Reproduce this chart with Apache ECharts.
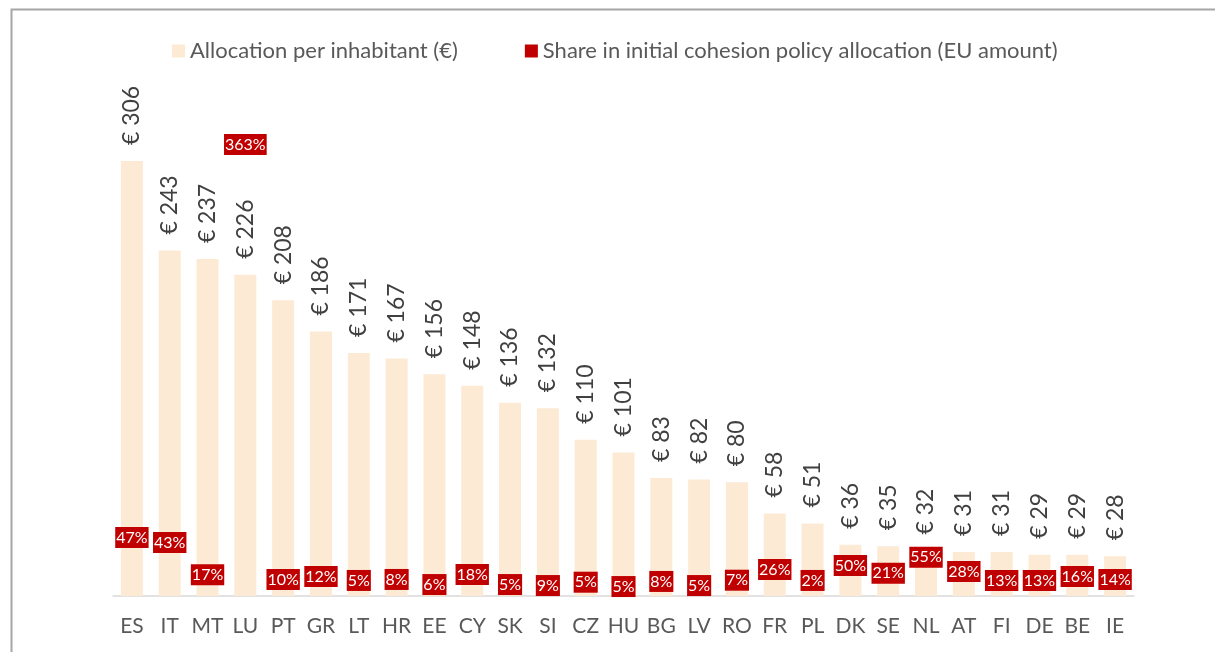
<!DOCTYPE html>
<html>
<head>
<meta charset="utf-8">
<script src="https://cdn.jsdelivr.net/npm/echarts@6/dist/echarts.min.js"></script>
<style>
html,body{margin:0;padding:0;background:#fff;}
#chart{width:1215px;height:652px;}
</style>
</head>
<body>
<div id="chart"></div>
<script>
// ---- data ----
const categories = ['ES','IT','MT','LU','PT','GR','LT','HR','EE','CY','SK','SI','CZ','HU','BG','LV','RO','FR','PL','DK','SE','NL','AT','FI','DE','BE','IE'];
const allocationPerInhabitant = [306,243,237,226,208,186,171,167,156,148,136,132,110,101,83,82,80,58,51,36,35,32,31,31,29,29,28];
const shareInAllocation = [47,43,17,363,10,12,5,8,6,18,5,9,5,5,8,5,7,26,2,50,21,55,28,13,13,16,14];
// where each share label sits on the (hidden) secondary % axis
const shareLabelAnchor = [47,43,17,363,13.3,15.7,12.5,13.3,9.2,17.3,9.2,8.4,11.1,7.6,11.7,8.4,12.7,21.3,12.5,24.5,18.3,31.2,19.7,12.5,12.5,15.7,13.3];
const seriesNames = ['Allocation per inhabitant (€)','Share in initial cohesion policy allocation (EU amount)'];

const FONT = 'Lato, "Open Sans", sans-serif';
const chart = echarts.init(document.getElementById('chart'), null, {renderer:'canvas'});

chart.setOption({
  animation:false,
  backgroundColor:'#ffffff',
  graphic:[{
    type:'rect', left:9, top:7, silent:true,
    shape:{width:1240, height:700},
    style:{fill:'none', stroke:'#a6a6a6', lineWidth:2}
  }],
  legend:{
    left:167, top:35,
    itemWidth:13, itemHeight:13, itemGap:67,
    textStyle:{fontFamily:FONT, fontSize:22, color:'#595959'},
    data:[
      {name:seriesNames[0], icon:'rect', itemStyle:{color:'#FDEAD5', opacity:1}},
      {name:seriesNames[1], icon:'rect', itemStyle:{color:'#C00000', opacity:1}}
    ]
  },
  grid:{left:113, right:81, top:98.5, bottom:56, containLabel:false},
  xAxis:{
    type:'category', data:categories,
    axisLine:{show:true, lineStyle:{color:'#d9d9d9', width:1.5}},
    axisTick:{show:false},
    axisLabel:{fontFamily:FONT, fontSize:21, color:'#595959', margin:20, interval:0}
  },
  yAxis:[
    {type:'value', min:0, max:350, show:false, splitLine:{show:false}},
    {type:'value', min:0, max:400, show:false, splitLine:{show:false}}
  ],
  series:[
    {
      name:seriesNames[0], type:'bar', yAxisIndex:0,
      data:allocationPerInhabitant,
      barWidth:22,
      itemStyle:{color:'#FDEAD5'},
      label:{
        show:true, position:'top', rotate:90, align:'left', verticalAlign:'middle',
        distance:16, fontFamily:FONT, fontSize:23, color:'#404040',
        formatter:p=>'€ '+p.value
      }
    },
    {
      name:seriesNames[1], type:'scatter', yAxisIndex:1,
      data:shareLabelAnchor.map((v,i)=>({value:v, share:shareInAllocation[i]})),
      symbolSize:1,
      itemStyle:{color:'rgba(192,0,0,0)', opacity:1},
      emphasis:{disabled:true},
      label:{
        show:true, position:'inside', opacity:1,
        backgroundColor:'#C00000', color:'#ffffff',
        fontFamily:FONT, fontSize:16, padding:[3,1,2,1],
        formatter:p=>p.data.share+'%'
      },
      z:5
    }
  ]
});
</script>
</body>
</html>
